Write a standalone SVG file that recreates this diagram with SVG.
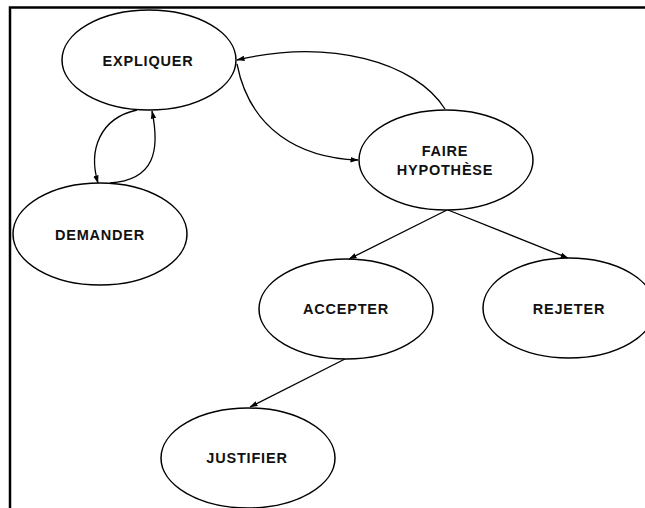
<svg xmlns="http://www.w3.org/2000/svg" width="645" height="508" viewBox="0 0 645 508">
<style>
.node ellipse{fill:#fff;stroke:#000;stroke-width:1.5}
.node text{font-family:"Liberation Sans",Arial,sans-serif;font-size:14.5px;font-weight:bold;letter-spacing:0.8px;text-anchor:middle;fill:#111}
.edges path{fill:none;stroke:#000;stroke-width:1.3;marker-end:url(#arr)}
</style>
<defs>
<marker id="arr" markerUnits="userSpaceOnUse" markerWidth="8" markerHeight="7" viewBox="0 0 8 7" refX="7.5" refY="3.5" orient="auto">
<path d="M0,0.8 L8,3.5 L0,6.2 z" fill="#000"/>
</marker>
</defs>
<rect width="645" height="508" fill="#fff"/>
<path d="M10,508 L10,7.5 L645,7.5" fill="none" stroke="#000" stroke-width="2.5"/>
<g class="edges">
<path d="M445,109 C415,62 330,38 237,60"/>
<path d="M237,64 C250,130 300,158 358,160"/>
<path d="M137,110 C100,118 88,150 98,183"/>
<path d="M110,183 C155,180 160,150 152,111"/>
<path d="M447,210 L349,259"/>
<path d="M448,210 L568,258"/>
<path d="M345,359 L250,407"/>
</g>
<g id="explique" class="node"><ellipse cx="149" cy="60" rx="87" ry="50"/><text x="148" y="66">EXPLIQUER</text></g>
<g id="demander" class="node"><ellipse cx="100" cy="234" rx="87" ry="51"/><text x="100" y="240">DEMANDER</text></g>
<g id="faire" class="node"><ellipse cx="446" cy="160" rx="87" ry="50"/><text x="445" y="156">FAIRE</text><text x="445" y="175">HYPOTHÈSE</text></g>
<g id="accepter" class="node"><ellipse cx="346" cy="309" rx="87" ry="50"/><text x="346" y="314">ACCEPTER</text></g>
<g id="rejeter" class="node"><ellipse cx="569" cy="308" rx="86" ry="50"/><text x="569" y="314">REJETER</text></g>
<g id="justifier" class="node"><ellipse cx="248" cy="458" rx="87" ry="50"/><text x="247" y="463">JUSTIFIER</text></g>
</svg>
